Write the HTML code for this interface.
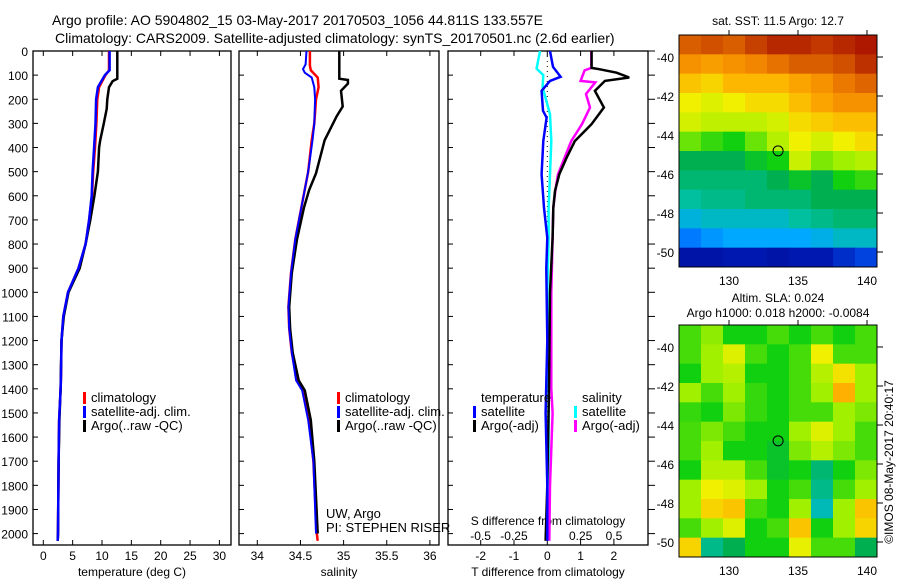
<!DOCTYPE html>
<html><head><meta charset="utf-8"><style>
html,body{margin:0;padding:0;background:#fff;width:900px;height:580px;overflow:hidden}
svg{display:block;font-family:"Liberation Sans",sans-serif}
</style></head><body>
<svg id="fig" width="900" height="580" viewBox="0 0 900 580" xmlns="http://www.w3.org/2000/svg">
<text x="52" y="25" font-size="14">Argo profile: AO 5904802_15 03-May-2017 20170503_1056 44.811S 133.557E</text>
<text x="55" y="43" font-size="14">Climatology: CARS2009. Satellite-adjusted climatology: synTS_20170501.nc (2.6d earlier)</text>
<g id="g"></g>
</svg>
<script>
// ---- data ----
const depthTicks=[0,100,200,300,400,500,600,700,800,900,1000,1100,1200,1300,1400,1500,1600,1700,1800,1900,2000];
const tempTicks=[0,5,10,15,20,25,30];
const salTicks=[34,34.5,35,35.5,36];
const tdiffTicks=[-2,-1,0,1,2];
const sdiffTicks=[-0.5,-0.25,0,0.25,0.5];
const sdiffLabels=["-0.5","-0.25","0","0.25","0.5"];
const climT_d=[0,80,100,150,200,300,400,500,600,700,800,900,1000,1100,1200,1365,1400,1530,1700,2000,2030];
const climT_v=[11.2,11.2,10.6,9.5,9.2,9.05,8.8,8.5,8.3,7.8,7.2,6.0,4.2,3.4,3.1,3.0,2.95,2.7,2.6,2.5,2.45];
const satT_d=[0,80,100,150,200,300,400,500,600,700,800,900,1000,1100,1200,1365,1400,1530,1700,2000,2030];
const satT_v=[11.3,11.3,10.5,9.3,9.0,8.9,8.65,8.4,8.25,7.8,7.2,6.0,4.2,3.4,3.1,3.0,2.95,2.7,2.6,2.5,2.45];
const argoT_d=[0,115,125,150,200,240,300,370,400,500,600,700,800,900,1000,1100,1200,1400,1530,1700,2000,2030];
const argoT_v=[12.6,12.6,11.8,11.2,10.9,10.8,10.3,9.7,9.5,9.3,8.7,8.0,7.2,6.2,4.3,3.5,3.1,2.95,2.75,2.6,2.5,2.45];
const climS_d=[0,60,80,110,150,200,300,370,500,650,780,920,1060,1150,1250,1365,1407,1530,1700,2000,2030];
const climS_v=[34.61,34.61,34.62,34.70,34.71,34.68,34.66,34.63,34.59,34.51,34.44,34.39,34.36,34.37,34.40,34.46,34.53,34.60,34.65,34.69,34.70];
const satS_d=[0,55,75,90,110,150,200,300,370,500,650,780,920,1060,1150,1250,1365,1407,1530,1700,2000];
const satS_v=[34.57,34.56,34.53,34.55,34.63,34.66,34.67,34.66,34.64,34.59,34.51,34.44,34.39,34.36,34.37,34.40,34.45,34.52,34.59,34.65,34.68];
const argoS_d=[0,115,120,135,165,230,270,370,507,577,650,780,920,1060,1150,1250,1365,1407,1530,1700,2000];
const argoS_v=[34.95,34.95,35.05,35.05,34.97,34.99,34.92,34.78,34.68,34.60,34.54,34.46,34.40,34.37,34.38,34.41,34.48,34.55,34.62,34.66,34.70];
const satTd_d=[0,66,107,124,165,248,276,373,511,650,774,900,1200,1500,1800,2030];
const satTd_v=[0.08,0.17,0.40,0.08,-0.17,-0.13,-0.02,-0.12,-0.17,-0.10,0.0,-0.03,0.0,-0.05,0.0,0.0];
const satSd_d=[0,73,100,150,262,373,511,650,774,1000,1400,1800,2030];
const satSd_v=[-0.055,-0.08,-0.03,-0.035,0.02,0.03,0.02,0.01,0.01,0.0,0.01,0.01,0.01];
const argoSd_d=[0,70,80,124,130,178,234,303,373,442,511,580,650,774,1000,1400,1500,1800,2030];
const argoSd_v=[0.33,0.33,0.28,0.25,0.36,0.29,0.32,0.26,0.18,0.13,0.08,0.06,0.045,0.04,0.03,0.03,0.04,0.02,0.015];
const argoTd_d=[0,70,76,90,110,124,165,234,303,373,442,511,580,650,774,1000,1400,1800,2030];
const argoTd_v=[1.33,1.33,1.58,2.08,2.46,1.73,1.43,1.70,1.33,0.83,0.58,0.36,0.23,0.18,0.16,0.08,0.05,0.0,-0.05];
const lonTicks=[130,135,140];
const latTicks=[-40,-42,-44,-46,-48,-50];
const sstGrid=[
[.88,.9,.88,.92,.95,.95,.93,.95,.97],
[.8,.78,.8,.82,.85,.88,.88,.9,.94],
[.72,.7,.74,.74,.74,.77,.8,.84,.87],
[.66,.64,.66,.69,.69,.73,.77,.8,.8],
[.63,.61,.61,.61,.63,.69,.71,.73,.73],
[.55,.52,.5,.55,.6,.66,.63,.66,.69],
[.45,.45,.45,.48,.5,.62,.56,.58,.6],
[.42,.42,.42,.42,.45,.48,.45,.5,.52],
[.38,.4,.4,.42,.42,.42,.45,.45,.45],
[.33,.35,.35,.35,.35,.38,.4,.42,.42],
[.25,.28,.3,.3,.3,.3,.32,.35,.35],
[.1,.1,.12,.12,.1,.12,.12,.15,.18]];
const slaGrid=[
[.53,.57,.5,.5,.53,.5,.53,.5,.53],
[.53,.58,.64,.53,.5,.53,.66,.53,.53],
[.5,.58,.6,.5,.5,.53,.6,.68,.58],
[.58,.53,.58,.52,.5,.53,.58,.75,.58],
[.52,.5,.56,.52,.5,.53,.53,.58,.56],
[.53,.56,.53,.5,.5,.58,.64,.58,.53],
[.53,.58,.5,.5,.48,.56,.6,.56,.53],
[.5,.6,.6,.53,.48,.5,.42,.5,.56],
[.58,.66,.64,.58,.5,.53,.4,.53,.58],
[.58,.7,.72,.53,.5,.58,.36,.58,.72],
[.53,.58,.64,.5,.53,.72,.5,.58,.7],
[.7,.4,.45,.5,.5,.65,.53,.53,.45]];
const argoLon=133.557, argoLat=-44.811;

// ---- helpers ----
const NS="http://www.w3.org/2000/svg", G=document.getElementById('g');
function mk(tag,attrs,parent){const e=document.createElementNS(NS,tag);for(const k in attrs)e.setAttribute(k,attrs[k]);(parent||G).appendChild(e);return e;}
function txt(x,y,s,size,anchor){const t=mk('text',{x:x,y:y,'font-size':size||12,'text-anchor':anchor||'start'});t.textContent=s;return t;}
const TOP=51, BOT=545;
const yD=d=>TOP+d*0.2413;
const P1={l:33,r:231}, P2={l:239,r:439}, P3={l:448,r:648};
const xT=v=>43.3+v*5.87, xS=v=>257.3+(v-34)*86.3, xTd=v=>547.3+v*33.3, xSd=v=>547.3+v*133.3;

function frame(p,name){const r=mk('rect',{x:p.l,y:TOP,width:p.r-p.l,height:BOT-TOP,fill:'none',stroke:'#000','stroke-width':1.3});

}
function line(ds,vs,fx,color,w,name){
 const pts=ds.map((d,i)=>fx(vs[i]).toFixed(1)+','+yD(d).toFixed(1));
 const pl=mk('polyline',{points:pts.join(' '),fill:'none',stroke:color,'stroke-width':w,'stroke-linejoin':'miter'});
 
 
}
function legend(x,y,color,label,name){const b=mk('rect',{x:x,y:y-10,width:3,height:12,fill:color});


const t=txt(x+8,y,label,13);

}

// depth axis
depthTicks.forEach(d=>{const y=yD(d);const t=txt(28,y+5,String(d),12,'end');


[P1,P2,P3].forEach(p=>{mk('line',{x1:p.l,x2:p.l+5,y1:y,y2:y,stroke:'#000'});});
mk('line',{x1:P3.r,x2:P3.r+7,y1:y,y2:y,stroke:'#000'});});

// panel 1
frame(P1,'temperature-panel');
tempTicks.forEach(v=>{const x=xT(v);mk('line',{x1:x,x2:x,y1:BOT,y2:BOT-5,stroke:'#000'});mk('line',{x1:x,x2:x,y1:TOP,y2:TOP+5,stroke:'#000'});
const t=txt(x,560,String(v),12,'middle');

});
let xl=txt(132,576,'temperature (deg C)',12,'middle');


line(climT_d,climT_v,xT,'#f00',2.5,'temp-climatology-line');
line(argoT_d,argoT_v,xT,'#000',2.5,'temp-argo-line');
line(satT_d,satT_v,xT,'#00f',2.5,'temp-satellite-line');
legend(83,402,'#f00','climatology','legend-climatology');
legend(83,416,'#00f','satellite-adj. clim.','legend-satellite-adj');
legend(83,430,'#000','Argo(..raw -QC)','legend-argo');

// panel 2
frame(P2,'salinity-panel');
salTicks.forEach(v=>{const x=xS(v);mk('line',{x1:x,x2:x,y1:BOT,y2:BOT-5,stroke:'#000'});mk('line',{x1:x,x2:x,y1:TOP,y2:TOP+5,stroke:'#000'});
const t=txt(x,560,String(v),12,'middle');

});
xl=txt(339,576,'salinity',12,'middle');


line(climS_d,climS_v,xS,'#f00',2.5,'sal-climatology-line');
line(argoS_d,argoS_v,xS,'#000',2.5,'sal-argo-line');
line(satS_d,satS_v,xS,'#00f',2,'sal-satellite-line');
legend(337,402,'#f00','climatology','legend-climatology-2');
legend(337,416,'#00f','satellite-adj. clim.','legend-satellite-adj-2');
legend(337,430,'#000','Argo(..raw -QC)','legend-argo-2');
let t1=txt(326,518,'UW, Argo',13);
t1=txt(326,532,'PI: STEPHEN RISER',13);

// panel 3
frame(P3,'difference-panel');
tdiffTicks.forEach(v=>{const x=xTd(v);mk('line',{x1:x,x2:x,y1:BOT,y2:BOT-5,stroke:'#000'});mk('line',{x1:x,x2:x,y1:TOP,y2:TOP+5,stroke:'#000'});
const t=txt(x,560,String(v),12,'middle');

});
sdiffTicks.forEach((v,i)=>{const t=txt(xSd(v),540,sdiffLabels[i],12,'middle');

});
t1=txt(548,525,'S difference from climatology',12,'middle');
t1=txt(548,576,'T difference from climatology',12,'middle');
mk('line',{x1:xTd(0),x2:xTd(0),y1:TOP,y2:yD(2030),stroke:'#000','stroke-dasharray':'1,4'});
line(satSd_d,satSd_v,xSd,'#0ff',2.5,'sdiff-satellite-line');
line(argoSd_d,argoSd_v,xSd,'#f0f',2.5,'sdiff-argo-line');
line(argoTd_d,argoTd_v,xTd,'#000',2.5,'tdiff-argo-line');
line(satTd_d,satTd_v,xTd,'#00f',2.5,'tdiff-satellite-line');
t1=txt(481,402,'temperature',13);
t1=txt(582,402,'salinity',13);
legend(473,416,'#00f','satellite','legend-t-satellite');
legend(473,430,'#000','Argo(-adj)','legend-t-argo');
legend(574,416,'#0ff','satellite','legend-s-satellite');
legend(574,430,'#f0f','Argo(-adj)','legend-s-argo');

// maps
const stops=[[0,'#00007f'],[.12,'#0018b0'],[.22,'#0060ff'],[.3,'#00a8ff'],[.38,'#00c0a0'],[.45,'#00b050'],[.5,'#10d010'],[.58,'#a0f000'],[.66,'#f0f000'],[.75,'#ffb000'],[.83,'#f08000'],[.9,'#d05000'],[1,'#a00000']];
function hex(h){return [1,3,5].map(i=>parseInt(h.substr(i,2),16));}
function cmap(v){for(let i=1;i<stops.length;i++){if(v<=stops[i][0]){const a=stops[i-1],b=stops[i];const f=(v-a[0])/(b[0]-a[0]);const c1=hex(a[1]),c2=hex(b[1]);return 'rgb('+c1.map((c,k)=>Math.round(c+(c2[k]-c)*f)).join(',')+')';}}return stops[stops.length-1][1];}
function drawMap(top,grid,name){
 const L=679,R=877,B=top+232;
 const lonX=v=>729+(v-130)*13.8, latY=v=>top+22+(-40-v)*19.5;
 const rows=grid.length, cols=grid[0].length, cw=(R-L)/cols, ch=(B-top)/rows;
 grid.forEach((row,i)=>row.forEach((v,j)=>{const c=mk('rect',{x:L+j*cw,y:top+i*ch,width:cw+0.5,height:ch+0.5,fill:cmap(v)});
 
 }));
 const f=mk('rect',{x:L,y:top,width:R-L,height:B-top,fill:'none',stroke:'#000','stroke-width':1});
 
 
 lonTicks.forEach(v=>{const x=lonX(v);mk('line',{x1:x,x2:x,y1:top,y2:top-5,stroke:'#000'});
 const t=txt(x,B+18,String(v),12,'middle');
 
 });
 latTicks.forEach(v=>{const y=latY(v);mk('line',{x1:R,x2:R+6,y1:y,y2:y,stroke:'#000'});
 const t=txt(674,y+5,String(v),12,'end');
 
 });
 const m=mk('circle',{cx:lonX(argoLon),cy:latY(argoLat),r:5,fill:'none',stroke:'#000','stroke-width':1});
 
 
}
drawMap(35,sstGrid,'sst-map');
drawMap(325,slaGrid,'sla-map');
t1=txt(778,25,'sat. SST: 11.5 Argo: 12.7',12,'middle');
t1=txt(778,302,'Altim. SLA: 0.024',12,'middle');
t1=txt(778,317,'Argo h1000: 0.018 h2000: -0.0084',12,'middle');
t1=txt(0,0,'©IMOS 08-May-2017 20:40:17',12,'middle');t1.setAttribute('transform','translate(893,462) rotate(-90)');


</script>
</body></html>
